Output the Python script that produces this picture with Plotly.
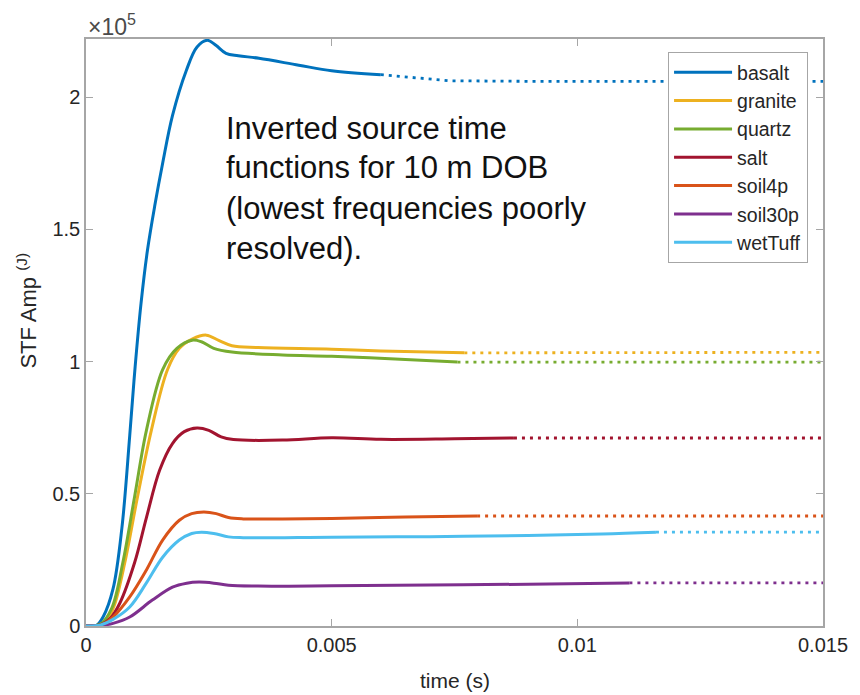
import plotly.graph_objects as go

# ---------------- data (time in ms, amplitude in units of 1e5 J) ----------------
names = ["basalt", "granite", "quartz", "salt", "soil4p", "soil30p", "wetTuff"]
colors = ["#0072BD", "#EDB120", "#77AC30", "#A2142F", "#D95319", "#7E2F8E", "#4DBEEE"]

basalt_t = [0, 0.2, 0.35, 0.55, 0.73, 0.89, 1.0, 1.12, 1.25, 1.4, 1.56, 1.76, 2.04, 2.26, 2.47, 2.65, 2.85, 3.1, 3.52, 4.33, 5.0, 6.0, 7.4, 9.0, 15.0]
basalt_v = [0, 0.0, 0.035, 0.14, 0.37, 0.72, 0.98, 1.22, 1.42, 1.59, 1.75, 1.93, 2.10, 2.19, 2.215, 2.195, 2.166, 2.157, 2.147, 2.121, 2.10, 2.085, 2.062, 2.06, 2.06]
basalt_cut = 6.0

granite_t = [0, 0.3, 0.45, 0.58, 0.79, 1.05, 1.33, 1.66, 1.9, 2.16, 2.45, 2.7, 2.97, 3.5, 5.0, 6.0, 7.7, 15.0]
granite_v = [0, 0.005, 0.03, 0.08, 0.24, 0.49, 0.74, 0.97, 1.05, 1.085, 1.10, 1.08, 1.06, 1.053, 1.047, 1.04, 1.033, 1.035]
granite_cut = 7.7

quartz_t = [0, 0.3, 0.53, 0.75, 0.99, 1.23, 1.56, 1.85, 2.16, 2.35, 2.6, 2.97, 4.0, 5.0, 6.5, 7.56, 15.0]
quartz_v = [0, 0.008, 0.07, 0.24, 0.49, 0.74, 0.97, 1.05, 1.081, 1.075, 1.05, 1.036, 1.025, 1.02, 1.008, 0.998, 0.998]
quartz_cut = 7.56

salt_t = [0, 0.3, 0.5, 0.69, 0.99, 1.23, 1.5, 1.76, 2.0, 2.26, 2.5, 2.75, 3.0, 4.0, 5.0, 6.0, 7.5, 8.71, 15.0]
salt_v = [0, 0.005, 0.03, 0.087, 0.24, 0.41, 0.59, 0.69, 0.735, 0.749, 0.74, 0.715, 0.705, 0.703, 0.712, 0.706, 0.708, 0.711, 0.711]
salt_cut = 8.71

soil4p_t = [0, 0.3, 0.55, 0.89, 1.23, 1.56, 1.9, 2.15, 2.4, 2.65, 2.9, 3.2, 4.0, 5.0, 6.5, 7.96, 15.0]
soil4p_v = [0, 0.003, 0.034, 0.11, 0.212, 0.325, 0.40, 0.425, 0.431, 0.425, 0.41, 0.405, 0.405, 0.407, 0.412, 0.416, 0.416]
soil4p_cut = 7.96

soil30p_t = [0, 0.3, 0.55, 0.89, 1.35, 1.76, 2.05, 2.3, 2.6, 2.9, 3.5, 5.0, 7.0, 9.0, 11.06, 15.0]
soil30p_v = [0, 0.002, 0.01, 0.034, 0.098, 0.147, 0.162, 0.166, 0.162, 0.154, 0.151, 0.152, 0.155, 0.158, 0.163, 0.163]
soil30p_cut = 11.06

wetTuff_t = [0, 0.3, 0.55, 0.89, 1.23, 1.56, 1.9, 2.15, 2.35, 2.6, 2.9, 3.2, 5.0, 7.0, 9.0, 10.5, 11.6, 15.0]
wetTuff_v = [0, 0.004, 0.025, 0.072, 0.163, 0.26, 0.325, 0.35, 0.355, 0.35, 0.337, 0.334, 0.336, 0.338, 0.342, 0.348, 0.355, 0.355]
wetTuff_cut = 11.6

series_t = [basalt_t, granite_t, quartz_t, salt_t, soil4p_t, soil30p_t, wetTuff_t]
series_v = [basalt_v, granite_v, quartz_v, salt_v, soil4p_v, soil30p_v, wetTuff_v]
cuts = [basalt_cut, granite_cut, quartz_cut, salt_cut, soil4p_cut, soil30p_cut, wetTuff_cut]

x_tickvals = [0, 0.005, 0.01, 0.015]
x_ticktext = ["0", "0.005", "0.01", "0.015"]
y_tickvals = [0, 0.5, 1, 1.5, 2]
y_ticktext = ["0", "0.5", "1", "1.5", "2"]

note_lines = ["Inverted source time", "functions for 10 m DOB",
              "(lowest frequencies poorly", "resolved)."]

# ---------------- figure ----------------
FONT = "Liberation Sans, Arial, Helvetica, sans-serif"
TXT = "#262626"
AX = "#a6a6a6"

fig = go.Figure()
for name, col, ts, vs, cut in zip(names, colors, series_t, series_v, cuts):
    s_t = [t / 1000 for t in ts if t <= cut]
    s_v = [v for t, v in zip(ts, vs) if t <= cut]
    d_t = [t / 1000 for t in ts if t >= cut]
    d_v = [v for t, v in zip(ts, vs) if t >= cut]
    fig.add_trace(go.Scatter(x=d_t, y=d_v, mode="lines", showlegend=False,
                             line=dict(color=col, width=2.8, dash="3px,5px"),
                             hoverinfo="skip"))
    fig.add_trace(go.Scatter(x=s_t, y=s_v, mode="lines", name=name,
                             line=dict(color=col, width=3, shape="spline", smoothing=1.0)))

fig.update_xaxes(range=[0, 0.015], tickvals=x_tickvals, ticktext=x_ticktext,
                 showgrid=False, zeroline=False, showline=True, linecolor=AX, linewidth=1.5,
                 mirror="ticks", ticks="inside", ticklen=7, tickcolor=AX, tickwidth=1.2,
                 tickfont=dict(family=FONT, size=20, color=TXT))
fig.update_yaxes(range=[0, 2.22], tickvals=y_tickvals, ticktext=y_ticktext,
                 showgrid=False, zeroline=False, showline=True, linecolor=AX, linewidth=1.5,
                 mirror="ticks", ticks="inside", ticklen=7, tickcolor=AX, tickwidth=1.2,
                 tickfont=dict(family=FONT, size=20, color=TXT))

annos = [
    dict(text="×10<sup>5</sup>", x=0, y=1.0, xref="paper", yref="paper",
         xanchor="left", yanchor="bottom", yshift=-3, showarrow=False,
         font=dict(family=FONT, size=23, color="#4a4a4a")),
    dict(text="STF Amp <sup>(J)</sup>", x=-0.0795, y=0.538, xref="paper", yref="paper",
         xanchor="center", yanchor="middle", textangle=-90, showarrow=False,
         font=dict(family=FONT, size=22, color=TXT)),
    dict(text="time (s)", x=0.5, y=-0.092, xref="paper", yref="paper",
         xanchor="center", yanchor="middle", showarrow=False,
         font=dict(family=FONT, size=21, color=TXT)),
]
for i, line in enumerate(note_lines):
    annos.append(dict(text=line, x=(225 - 86) / 742, y=(626 - 128 - 40 * i) / 587,
                      xref="paper", yref="paper", xanchor="left", yanchor="middle",
                      showarrow=False, font=dict(family=FONT, size=31, color="#111111")))

fig.update_layout(
    width=860, height=695,
    margin=dict(l=86, r=32, t=39, b=69),
    paper_bgcolor="white", plot_bgcolor="white",
    annotations=annos,
    legend=dict(x=(672 - 86) / 742, y=(626 - 52) / 587, xanchor="left", yanchor="top",
                bgcolor="white", bordercolor=AX, borderwidth=1,
                font=dict(family=FONT, size=19.5, color=TXT), itemwidth=58,
                tracegroupgap=0),
    showlegend=True,
)

fig.write_html("out.html")
